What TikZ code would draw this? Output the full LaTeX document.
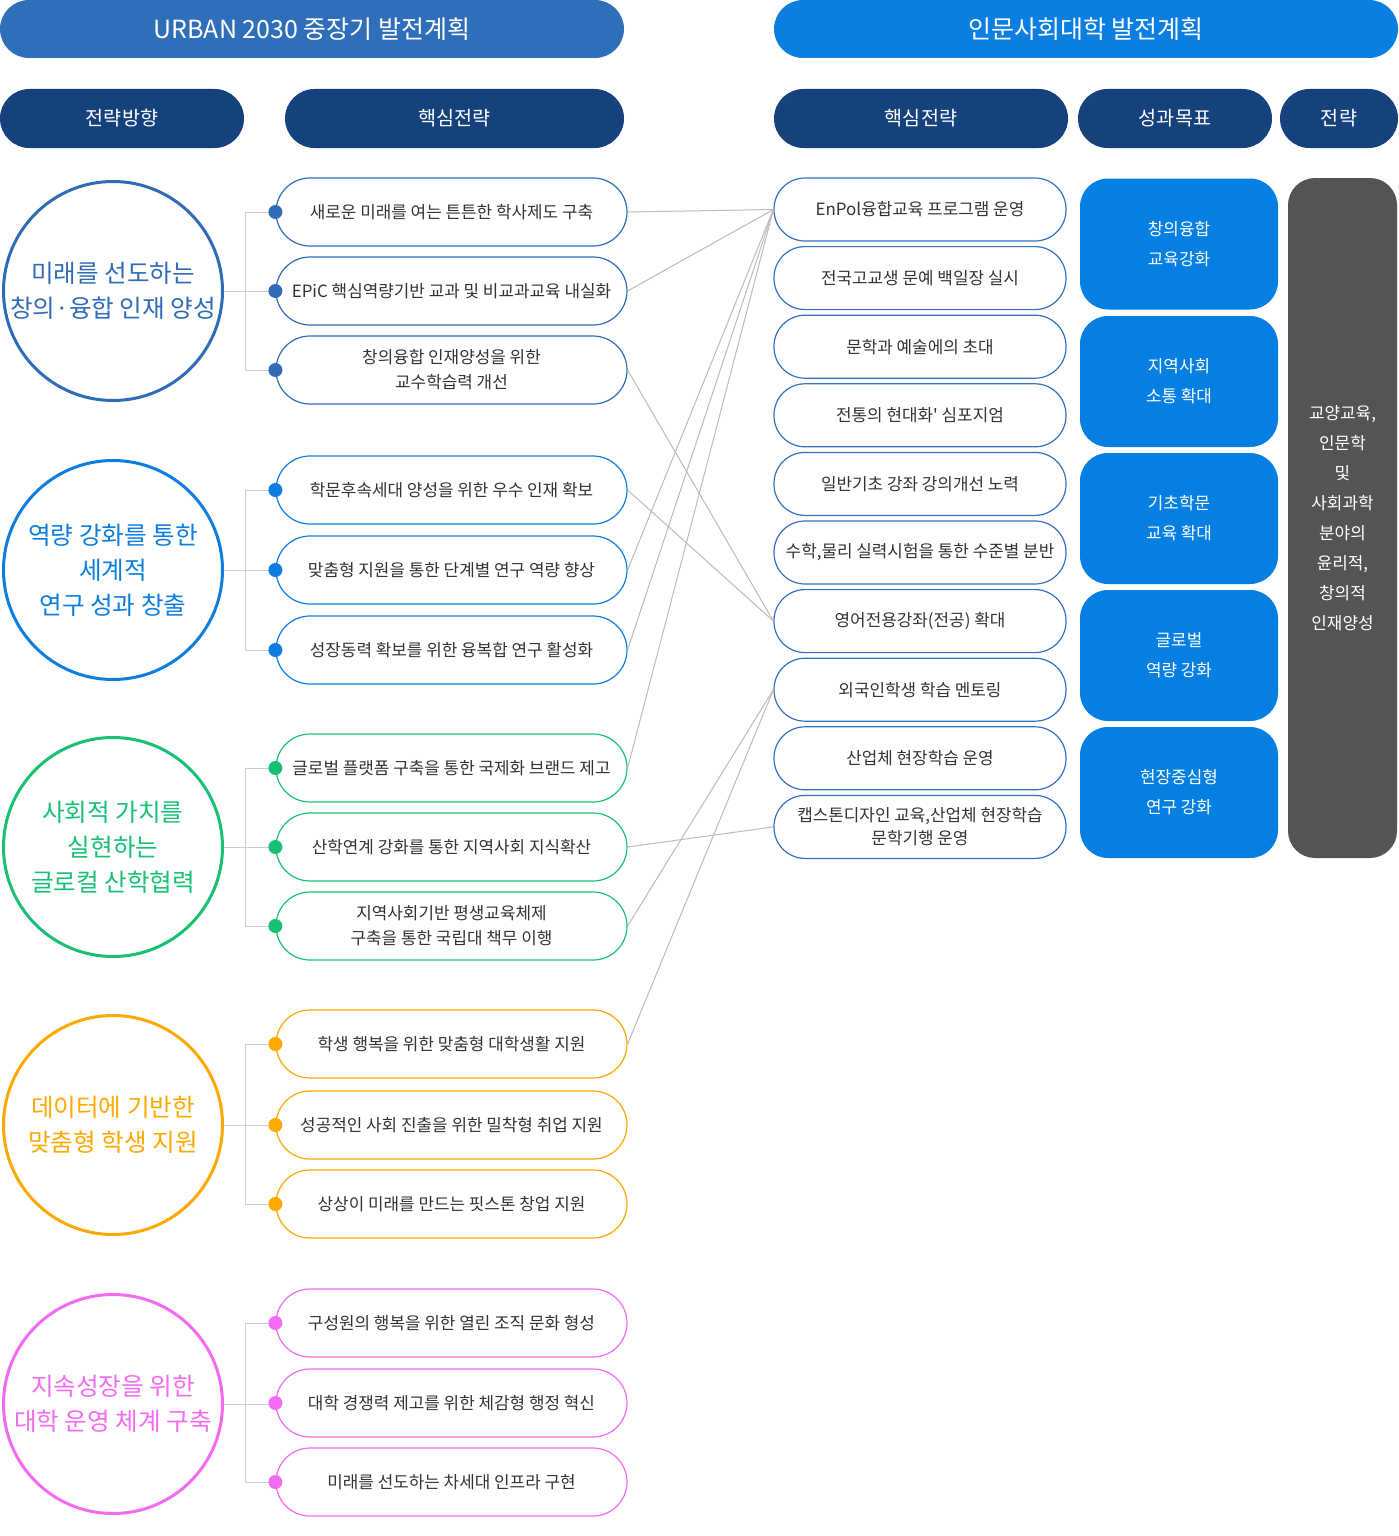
\documentclass[tikz,border=0pt]{standalone}
\usepackage{fontspec}
\setmainfont{Noto Sans CJK KR}
\newfontfamily\plainf{Noto Sans CJK KR}
\usetikzlibrary{calc}
\definecolor{hdrA}{HTML}{2F6EB8}
\definecolor{hdrB}{HTML}{0A7FE1}
\definecolor{navy}{HTML}{15427C}
\definecolor{goal}{HTML}{0580E2}
\definecolor{strat}{HTML}{545454}
\definecolor{gA}{HTML}{2F6BB7}
\definecolor{gB}{HTML}{0D7DE0}
\definecolor{gC}{HTML}{18C074}
\definecolor{gD}{HTML}{FFA800}
\definecolor{gE}{HTML}{F46AF2}
\definecolor{rbd}{HTML}{3470BE}
\definecolor{txt}{HTML}{333333}
\definecolor{conn}{HTML}{BBBBBB}
\definecolor{brk}{HTML}{CCCCCC}
\tikzset{
  hdr/.style={fill=#1, text=white, rounded corners=29pt, minimum height=58pt, inner sep=0pt, font=\fontsize{25}{29}\selectfont},
  subhdr/.style={fill=navy, text=white, rounded corners=29.5pt, minimum height=59pt, inner sep=0pt, font=\fontsize{19.6}{23}\selectfont},
  circ/.style={circle, draw=#1, line width=3pt, minimum size=219pt, inner sep=0pt, align=center, text=#1, font=\fontsize{24.6}{35}\selectfont},
  lbox/.style={draw=#1, line width=1.2pt, rounded corners=34pt, minimum width=351pt, minimum height=68pt, inner sep=0pt, align=center, text=txt, font=\fontsize{16.9}{25}\selectfont},
  rbox/.style={draw=rbd, line width=1.2pt, rounded corners=31pt, minimum width=292pt, minimum height=63pt, inner sep=0pt, align=center, text=txt, font=\fontsize{16.9}{23}\selectfont},
  gbox/.style={fill=goal, rounded corners=28pt, minimum width=198pt, minimum height=131pt, inner sep=0pt, align=center, text=white, font=\fontsize{16.9}{30}\selectfont},
  sbox/.style={fill=strat, rounded corners=27pt, minimum width=109pt, minimum height=680pt, inner sep=0pt, align=center, text=white, font=\fontsize{16.9}{30}\selectfont},
  bline/.style={draw=brk, line width=1pt},
  cline/.style={draw=conn, line width=1pt},
}
\begin{document}
\begin{tikzpicture}[x=1pt,y=-1pt]
\useasboundingbox (0,0) rectangle (1398,1536);
% headers
\node[hdr=hdrA, minimum width=624pt] (H1) at (312,29) {URBAN 2030 중장기 발전계획};
\node[hdr=hdrB, minimum width=624pt] (H2) at (1086,29) {인문사회대학 발전계획};
\node[subhdr, minimum width=244pt] (S1) at (122,118.5) {전략방향};
\node[subhdr, minimum width=339pt] (S2) at (454.5,118.5) {핵심전략};
\node[subhdr, minimum width=294pt] (S3) at (921,118.5) {핵심전략};
\node[subhdr, minimum width=194pt] (S4) at (1175,118.5) {성과목표};
\node[subhdr, minimum width=118pt] (S5) at (1339,118.5) {전략};
% circles
\node[circ=gA] (C1) at (113,291) {미래를 선도하는\\창의·융합 인재 양성};
\node[circ=gB] (C2) at (113,570) {역량 강화를 통한\\세계적\\연구 성과 창출};
\node[circ=gC] (C3) at (113,847) {사회적 가치를\\실현하는\\글로컬 산학협력};
\node[circ=gD] (C4) at (113,1125) {데이터에 기반한\\맞춤형 학생 지원};
\node[circ=gE] (C5) at (113,1404) {지속성장을 위한\\대학 운영 체계 구축};
% left boxes
\node[lbox=gA] (L1) at (451.5,212) {새로운 미래를 여는 튼튼한 학사제도 구축};
\node[lbox=gA] (L2) at (451.5,291) {EPiC 핵심역량기반 교과 및 비교과교육 내실화};
\node[lbox=gA] (L3) at (451.5,370) {창의융합 인재양성을 위한\\교수학습력 개선};
\node[lbox=gB] (L4) at (451.5,490) {학문후속세대 양성을 위한 우수 인재 확보};
\node[lbox=gB] (L5) at (451.5,570) {맞춤형 지원을 통한 단계별 연구 역량 향상};
\node[lbox=gB] (L6) at (451.5,650) {성장동력 확보를 위한 융복합 연구 활성화};
\node[lbox=gC] (L7) at (451.5,768) {글로벌 플랫폼 구축을 통한 국제화 브랜드 제고};
\node[lbox=gC] (L8) at (451.5,847) {산학연계 강화를 통한 지역사회 지식확산};
\node[lbox=gC] (L9) at (451.5,926) {지역사회기반 평생교육체제\\구축을 통한 국립대 책무 이행};
\node[lbox=gD] (L10) at (451.5,1044) {학생 행복을 위한 맞춤형 대학생활 지원};
\node[lbox=gD] (L11) at (451.5,1125) {성공적인 사회 진출을 위한 밀착형 취업 지원};
\node[lbox=gD] (L12) at (451.5,1204) {상상이 미래를 만드는 핏스톤 창업 지원};
\node[lbox=gE] (L13) at (451.5,1323) {구성원의 행복을 위한 열린 조직 문화 형성};
\node[lbox=gE] (L14) at (451.5,1403) {대학 경쟁력 제고를 위한 체감형 행정 혁신};
\node[lbox=gE] (L15) at (451.5,1482) {미래를 선도하는 차세대 인프라 구현};
% right boxes
\node[rbox] (R1) at (920,209.5) {EnPol융합교육 프로그램 운영};
\node[rbox] (R2) at (920,278.1) {전국고교생 문예 백일장 실시};
\node[rbox] (R3) at (920,346.7) {문학과 예술에의 초대};
\node[rbox] (R4) at (920,415.3) {\plainf 전통의 현대화' 심포지엄};
\node[rbox] (R5) at (920,483.9) {일반기초 강좌 강의개선 노력};
\node[rbox] (R6) at (920,552.5) {수학,물리 실력시험을 통한 수준별 분반};
\node[rbox] (R7) at (920,621.1) {영어전용강좌(전공) 확대};
\node[rbox] (R8) at (920,689.7) {외국인학생 학습 멘토링};
\node[rbox] (R9) at (920,758.3) {산업체 현장학습 운영};
\node[rbox] (R10) at (920,826.9) {캡스톤디자인 교육,산업체 현장학습\\문학기행 운영};
% goals
\node[gbox] (G1) at (1179,244) {창의융합\\교육강화};
\node[gbox] (G2) at (1179,381.5) {지역사회\\소통 확대};
\node[gbox] (G3) at (1179,518.5) {기초학문\\교육 확대};
\node[gbox] (G4) at (1179,655.5) {글로벌\\역량 강화};
\node[gbox] (G5) at (1179,792.5) {현장중심형\\연구 강화};
\node[sbox] (ST) at (1342.5,518) {교양교육,\\인문학\\및\\사회과학\\분야의\\윤리적,\\창의적\\인재양성};
% brackets
\foreach \c/\a/\b/\m/\col in {C1/L1/L3/L2/gA, C2/L4/L6/L5/gB, C3/L7/L9/L8/gC, C4/L10/L12/L11/gD, C5/L13/L15/L14/gE}{
  \draw[bline] (\a.west) -- ++(-30,0) |- (\b.west);
  \draw[bline] (\c.east) -- (\c.east -| \m.west);
  \fill[\col] (\a.west) circle[radius=7pt];
  \fill[\col] (\m.west) circle[radius=7pt];
  \fill[\col] (\b.west) circle[radius=7pt];
}
% connectors
\draw[cline] (L1.east) -- (R1.west);
\draw[cline] (L2.east) -- (R1.west);
\draw[cline] (L3.east) -- (R7.west);
\draw[cline] (L4.east) -- (R7.west);
\draw[cline] (L5.east) -- (R1.west);
\draw[cline] (L6.east) -- (R1.west);
\draw[cline] (L7.east) -- (R1.west);
\draw[cline] (L8.east) -- (R10.west);
\draw[cline] (L9.east) -- (R8.west);
\draw[cline] (L10.east) -- (R8.west);
\end{tikzpicture}
\end{document}
